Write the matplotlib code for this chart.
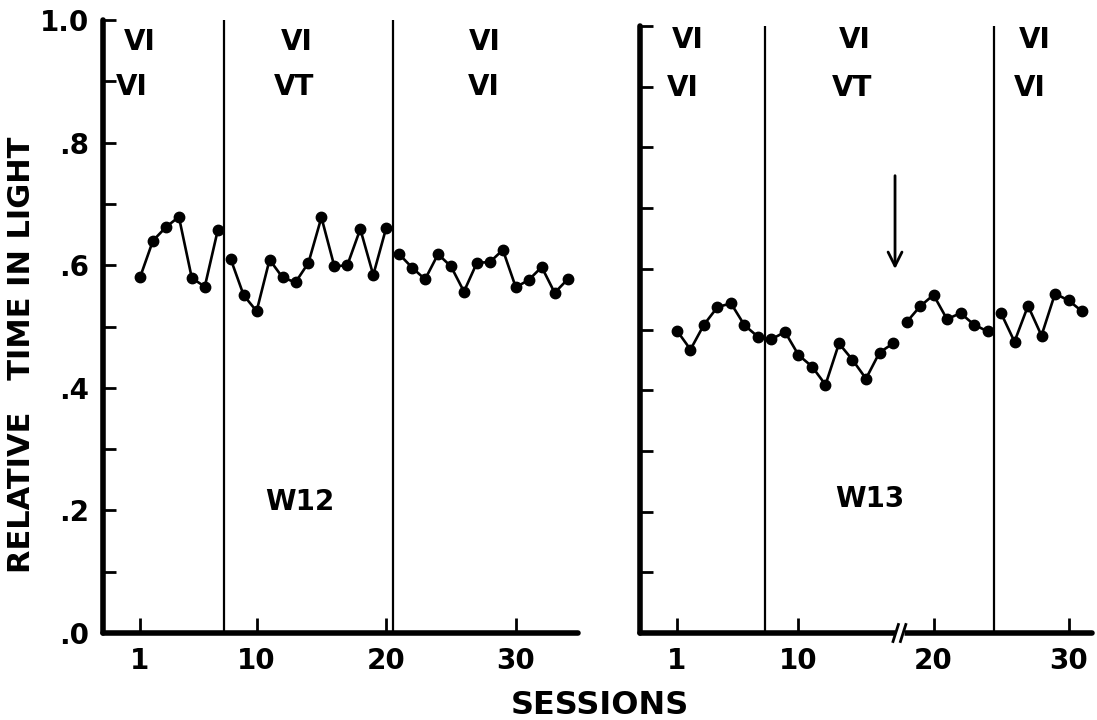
import matplotlib
matplotlib.use('Agg')
import matplotlib.pyplot as plt
from matplotlib.ticker import FixedLocator, FixedFormatter, NullFormatter

plt.rcParams['font.family'] = ['Liberation Sans Narrow', 'DejaVu Sans']
plt.rcParams['font.weight'] = 'bold'

# W12 : three phases (VI-VI, VI-VT, VI-VI)
w12_sessions = [list(range(1, 8)), list(range(8, 21)), list(range(21, 35))]
w12_values = [
    [0.580, 0.640, 0.662, 0.679, 0.579, 0.565, 0.657],
    [0.610, 0.551, 0.525, 0.609, 0.580, 0.572, 0.604, 0.678, 0.598, 0.600,
     0.659, 0.584, 0.661],
    [0.618, 0.596, 0.577, 0.618, 0.598, 0.557, 0.604, 0.605, 0.625, 0.564,
     0.576, 0.597, 0.555, 0.577],
]

# W13 : VT phase is split by the axis break / arrow
w13_sessions = [list(range(1, 8)), list(range(8, 18)), list(range(18, 25)), list(range(25, 32))]
w13_values = [
    [0.498, 0.467, 0.508, 0.537, 0.543, 0.507, 0.488],
    [0.484, 0.496, 0.458, 0.439, 0.409, 0.477, 0.450, 0.419, 0.462, 0.477],
    [0.512, 0.538, 0.557, 0.517, 0.527, 0.508, 0.497],
    [0.527, 0.480, 0.539, 0.490, 0.559, 0.548, 0.530],
]

w12_phase_lines = [7.5, 20.5]
w13_phase_lines = [7.5, 24.5]
w13_break = 17.5

top_row = ['VI', 'VI', 'VI']
w12_bottom_row = ['VI', 'VT', 'VI']
w13_bottom_row = ['VI', 'VT', 'VI']

x_ticks = [1, 10, 20, 30]
y_major = [0.0, 0.2, 0.4, 0.6, 0.8, 1.0]
y_major_labels = ['.0', '.2', '.4', '.6', '.8', '1.0']
y_minor = [0.1, 0.3, 0.5, 0.7, 0.9]

fig = plt.figure(figsize=(10.97, 7.2), dpi=100)
ax1 = fig.add_axes([103/1097, 87/720, 475/1097, 613/720])
ax2 = fig.add_axes([640/1097, 87/720, 452/1097, 607/720])


def style(ax, show_labels):
    for s in ['top', 'right']:
        ax.spines[s].set_visible(False)
    for s in ['left', 'bottom']:
        ax.spines[s].set_linewidth(4)
        ax.spines[s].set_capstyle('round')
    ax.set_ylim(0, 1.0)
    ax.yaxis.set_major_locator(FixedLocator(y_major))
    ax.yaxis.set_minor_locator(FixedLocator(y_minor))
    if show_labels:
        ax.yaxis.set_major_formatter(FixedFormatter(y_major_labels))
    else:
        ax.yaxis.set_major_formatter(NullFormatter())
    ax.set_xticks(x_ticks)
    ax.set_xticklabels([str(t) for t in x_ticks])
    ax.tick_params(axis='y', which='both', direction='in', length=9, width=2,
                   pad=10, labelsize=20)
    ax.tick_params(axis='x', direction='in', length=11, width=2, pad=10,
                   labelsize=20)


def draw_phases(ax, sessions, values, lines):
    for xs, ys in zip(sessions, values):
        ax.plot(xs, ys, color='k', lw=1.9, marker='o', ms=7.5, clip_on=False)
    for xl in lines:
        ax.axvline(xl, color='k', lw=1.6)


# left panel
style(ax1, True)
ax1.set_xlim(-1.855, 34.8)
draw_phases(ax1, w12_sessions, w12_values, w12_phase_lines)
for xc, txt in zip([0.95, 13.1, 27.6], top_row):
    ax1.text(xc, 0.964, txt, ha='center', va='center', fontsize=20)
for xc, txt in zip([0.4, 12.9, 27.5], w12_bottom_row):
    ax1.text(xc, 0.891, txt, ha='center', va='center', fontsize=20)
ax1.text(13.3, 0.214, 'W12', ha='center', va='center', fontsize=20)

# right panel
style(ax2, False)
ax2.set_xlim(-1.74, 31.74)
draw_phases(ax2, w13_sessions, w13_values, w13_phase_lines)
for xc, txt in zip([1.8, 14.2, 27.5], top_row):
    ax2.text(xc, 0.977, txt, ha='center', va='center', fontsize=20)
for xc, txt in zip([1.45, 14.0, 27.1], w13_bottom_row):
    ax2.text(xc, 0.898, txt, ha='center', va='center', fontsize=20)
ax2.text(15.3, 0.22, 'W13', ha='center', va='center', fontsize=20)

# axis break on the session axis
trans = ax2.get_xaxis_transform()
ax2.plot([w13_break - 0.35, w13_break + 0.35], [0, 0], transform=trans,
         color='white', lw=5, clip_on=False, zorder=5, solid_capstyle='butt')
for dx in [-0.3, 0.25]:
    ax2.plot([w13_break + dx - 0.2, w13_break + dx + 0.2], [-0.014, 0.014],
             transform=trans, color='k', lw=2, clip_on=False, zorder=6)

# arrow marking the change
ax2.annotate('', xy=(17.15, 0.595), xytext=(17.15, 0.758),
             arrowprops=dict(arrowstyle='->', lw=2, color='k', mutation_scale=25))

fig.text(22/1097, 1 - 355/720, 'RELATIVE   TIME IN LIGHT',
         rotation=90, ha='center', va='center', fontsize=22)
fig.text(600/1097, 1 - 705/720, 'SESSIONS', ha='center', va='center',
         fontsize=23)

fig.savefig('out.png', dpi=100)
